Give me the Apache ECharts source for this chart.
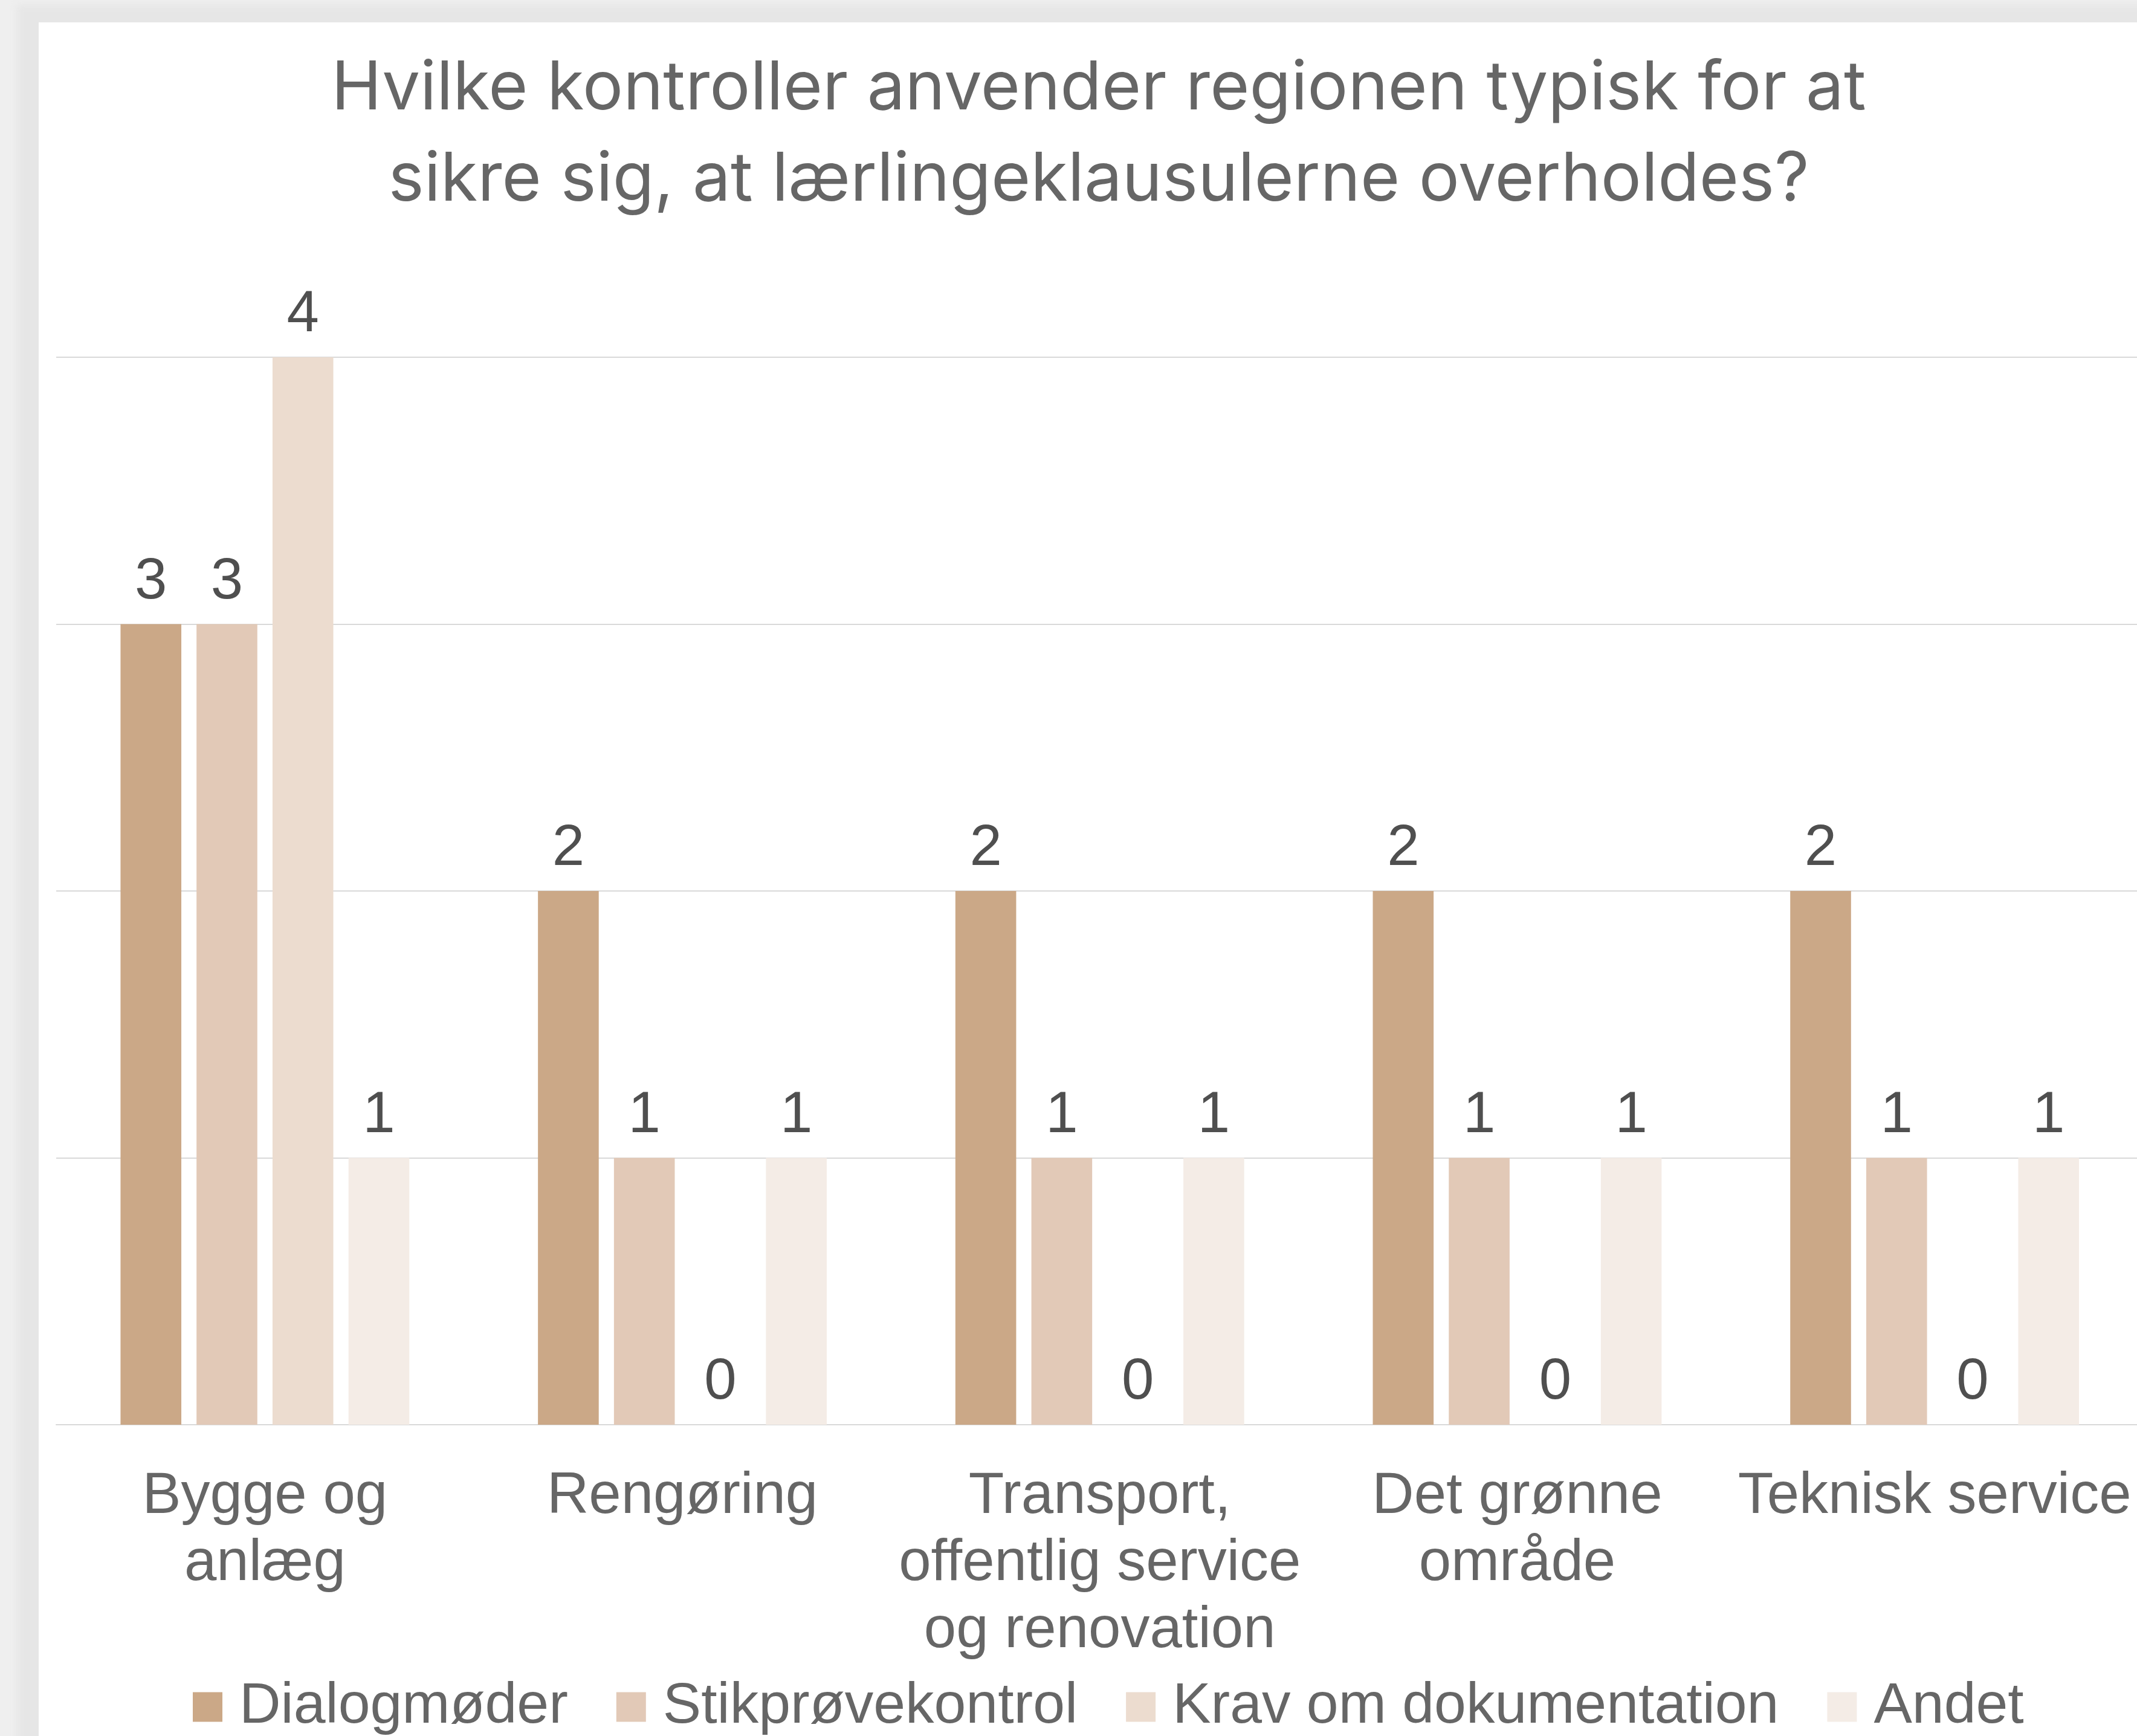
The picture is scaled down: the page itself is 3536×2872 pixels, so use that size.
<!DOCTYPE html>
<html>
<head>
<meta charset="utf-8">
<script src="https://cdn.jsdelivr.net/npm/echarts@6/dist/echarts.min.js"></script>
<style>
  html, body { margin: 0; padding: 0; width: 3536px; height: 2872px; overflow: hidden; background: #efefef; }
  #shade { position: absolute; left: 28px; top: 8px; width: 3700px; height: 3000px; background: #e6e6e6; filter: blur(6px); }
  #chart { position: absolute; left: 64px; top: 37px; width: 3508px; height: 2835px; background: #ffffff; }
</style>
</head>
<body>
<div id="shade"></div>
<div id="chart"></div>
<script>
// Sectors (x axis) and the number of regions using each kind of control
const categories = ['Bygge og\nanlæg', 'Rengøring', 'Transport,\noffentlig service\nog renovation', 'Det grønne\nområde', 'Teknisk service'];
const seriesNames = ['Dialogmøder', 'Stikprøvekontrol', 'Krav om dokumentation', 'Andet'];
const dialogmoeder = [3, 2, 2, 2, 2];
const stikproevekontrol = [3, 1, 1, 1, 1];
const kravOmDokumentation = [4, 0, 0, 0, 0];
const andet = [1, 1, 1, 1, 1];
const valueAxisMin = 0;
const valueAxisMax = 4;
const valueAxisStep = 1;

const seriesValues = [dialogmoeder, stikproevekontrol, kravOmDokumentation, andet];
const colors = ['#cba887', '#e2c9b7', '#ecdccf', '#f4ece6'];
const textFont = '"Liberation Sans", Arial, sans-serif';

const chart = echarts.init(document.getElementById('chart'), null, { renderer: 'canvas' });

chart.setOption({
  backgroundColor: '#ffffff',
  animation: false,
  color: colors,
  title: {
    text: 'Hvilke kontroller anvender regionen typisk for at\nsikre sig, at lærlingeklausulerne overholdes?',
    left: 'center',
    top: 35,
    padding: 0,
    textStyle: {
      fontFamily: 'Inter, "Open Sans", sans-serif',
      fontSize: 112,
      fontWeight: 400,
      lineHeight: 151,
      color: '#666666'
    }
  },
  legend: {
    data: seriesNames,
    left: 255,
    top: 2737,
    padding: 0,
    itemWidth: 49,
    itemHeight: 49,
    itemGap: 80,
    icon: 'rect',
    textStyle: {
      fontFamily: textFont,
      fontSize: 95,
      lineHeight: 100,
      color: '#666666',
      padding: [0, 0, 0, 23]
    }
  },
  grid: {
    left: 29,
    top: 554,
    width: 3453.5,
    height: 1766,
    containLabel: false
  },
  xAxis: {
    type: 'category',
    data: categories,
    axisTick: { show: false },
    axisLine: { lineStyle: { color: '#d9d9d9', width: 2 } },
    axisLabel: {
      interval: 0,
      margin: 64,
      fontFamily: textFont,
      fontSize: 96,
      lineHeight: 111,
      color: '#666666',
      align: 'center'
    }
  },
  yAxis: {
    type: 'value',
    min: valueAxisMin,
    max: valueAxisMax,
    interval: valueAxisStep,
    axisLabel: { show: false },
    axisLine: { show: false },
    axisTick: { show: false },
    splitLine: { lineStyle: { color: '#d9d9d9', width: 2 } }
  },
  series: seriesNames.map((name, i) => ({
    name: name,
    type: 'bar',
    data: seriesValues[i],
    barWidth: 100.6,
    barGap: '25%',
    itemStyle: { color: colors[i] },
    label: {
      show: true,
      position: 'top',
      distance: 21,
      fontFamily: textFont,
      fontSize: 96,
      color: '#4f4f4f'
    }
  }))
});
</script>
</body>
</html>
